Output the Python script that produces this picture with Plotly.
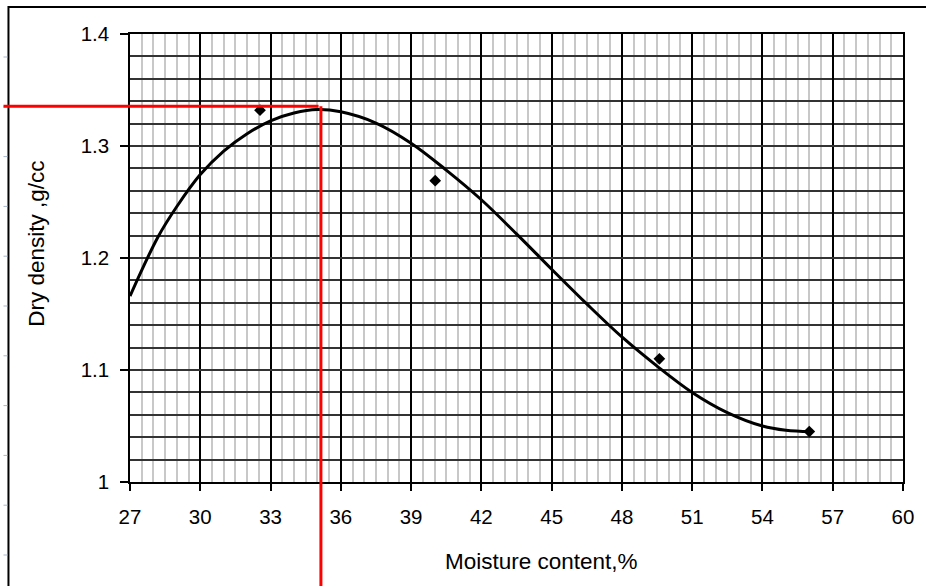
import plotly.graph_objects as go

# Compaction test results
moisture = [32.55, 40.03, 49.6, 56.0]
dry_density = [1.332, 1.269, 1.110, 1.045]

# Fitted compaction curve
curve_moisture = [27.0, 28.2, 29.0, 30.0, 31.0, 32.0, 33.0, 34.0, 35.0, 36.0,
                  37.5, 39.0, 40.5, 42.0, 43.5, 45.0, 46.5, 48.0, 49.5,
                  51.0, 52.5, 54.0, 55.0, 56.06]
curve_density = [1.166, 1.219, 1.246, 1.2745, 1.2955, 1.3110, 1.3225, 1.3295, 1.3326, 1.3305,
                 1.3205, 1.3025, 1.2785, 1.2520, 1.2215, 1.1900, 1.1590, 1.1295, 1.1035,
                 1.0800, 1.0620, 1.0500, 1.0462, 1.0449]

# Optimum moisture content and maximum dry density
omc = 35.15
mdd = 1.3355

x_ticks = [27, 30, 33, 36, 39, 42, 45, 48, 51, 54, 57, 60]
x_tick_text = ["27", "30", "33", "36", "39", "42", "45", "48", "51", "54", "57", "60"]
y_ticks = [1.0, 1.1, 1.2, 1.3, 1.4]
y_tick_text = ["1", "1.1", "1.2", "1.3", "1.4"]

W, H = 926, 586
ML, MR, MT, MB = 130, 20, 34, 104
PW, PH = W - ML - MR, H - MT - MB


def px_x(px):
    return (px - ML) / PW


def px_y(py):
    return (H - MB - py) / PH


font_family = "Liberation Sans, Arial, sans-serif"

fig = go.Figure()

fig.add_trace(go.Scatter(
    x=curve_moisture, y=curve_density, mode="lines",
    line=dict(color="black", width=3, shape="spline", smoothing=1.0),
    hoverinfo="skip", showlegend=False,
))

fig.add_trace(go.Scatter(
    x=moisture, y=dry_density, mode="markers",
    marker=dict(symbol="diamond", size=9, color="black"),
    showlegend=False,
))

shapes = []
# outer chart frame
shapes.append(dict(type="rect", xref="paper", yref="paper",
                   x0=px_x(8), x1=px_x(960), y0=px_y(7), y1=px_y(640),
                   line=dict(color="black", width=2), fillcolor="rgba(0,0,0,0)", layer="below"))
# small marks along the left frame
for k in range(11):
    yy = px_y(57 + 49.8 * k)
    shapes.append(dict(type="line", xref="paper", yref="paper",
                       x0=px_x(3), x1=px_x(7), y0=yy, y1=yy,
                       line=dict(color="#a9b7cc", width=1)))
# horizontal red line at maximum dry density
shapes.append(dict(type="line", xref="paper", yref="y",
                   x0=px_x(3), x1=0, y0=mdd, y1=mdd,
                   line=dict(color="#ff0000", width=3)))
shapes.append(dict(type="line", xref="x", yref="y",
                   x0=27, x1=omc - 0.1, y0=mdd, y1=mdd,
                   line=dict(color="#ff0000", width=3)))
# vertical red line at optimum moisture content
shapes.append(dict(type="line", xref="x", yref="y",
                   x0=omc, x1=omc, y0=mdd, y1=1.0,
                   line=dict(color="#ff0000", width=3)))
shapes.append(dict(type="line", xref="x", yref="paper",
                   x0=omc, x1=omc, y0=0, y1=px_y(600),
                   line=dict(color="#ff0000", width=3)))

fig.update_layout(
    width=W, height=H,
    margin=dict(l=ML, r=MR, t=MT, b=MB),
    paper_bgcolor="white", plot_bgcolor="white",
    font=dict(family=font_family, color="black"),
    shapes=shapes,
    xaxis=dict(
        range=[27, 60], tickmode="array", tickvals=x_ticks, ticktext=x_tick_text,
        showgrid=True, gridcolor="black", gridwidth=1.5,
        minor=dict(tickmode="linear", tick0=27, dtick=0.5, showgrid=True,
                   gridcolor="#c8c8c8", gridwidth=2, ticks=""),
        showline=True, linecolor="black", linewidth=1.5, mirror=True,
        ticks="outside", ticklen=7, tickwidth=1.5, tickcolor="black",
        tickfont=dict(size=20.5, family=font_family, color="black"),
        ticklabelstandoff=9, zeroline=False, fixedrange=True,
    ),
    yaxis=dict(
        range=[1.0, 1.4], tickmode="array", tickvals=y_ticks, ticktext=y_tick_text,
        showgrid=True, gridcolor="#333333", gridwidth=1.6,
        minor=dict(tickmode="linear", tick0=1.0, dtick=0.02, showgrid=True,
                   gridcolor="#333333", gridwidth=1.6, ticks=""),
        showline=True, linecolor="black", linewidth=1.5, mirror=True,
        ticks="outside", ticklen=8, tickwidth=1.5, tickcolor="black",
        tickfont=dict(size=20.5, family=font_family, color="black"),
        ticklabelstandoff=7, zeroline=False, fixedrange=True,
    ),
    annotations=[
        dict(text="Moisture content,%", xref="paper", yref="paper",
             x=px_x(543), y=px_y(561), xanchor="center", yanchor="middle",
             showarrow=False, font=dict(size=22.5, family=font_family, color="black")),
        dict(text="Dry density ,g/cc", xref="paper", yref="paper",
             x=px_x(36), y=px_y(243.5), xanchor="center", yanchor="middle", textangle=-90,
             showarrow=False, font=dict(size=22.5, family=font_family, color="black")),
    ],
)

fig.write_html("out.html")
